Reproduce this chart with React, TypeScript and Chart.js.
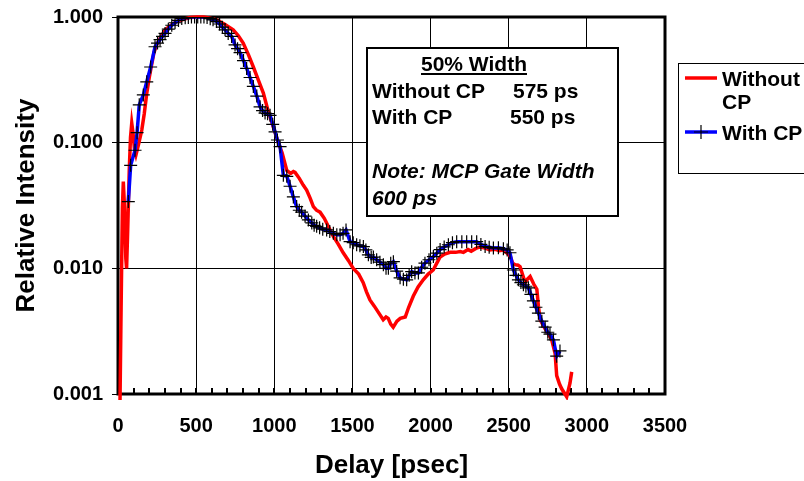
import React, { useEffect, useRef } from 'react';
import { Chart, registerables } from 'chart.js';

Chart.register(...registerables);

// ---- Data ----
const withoutCpX = [
  5, 13, 20, 28, 34, 42, 50, 55, 62, 72, 80, 88, 96, 105, 115, 130, 152, 168, 184, 200,
  215, 230, 247, 270, 301, 340, 375, 420, 460, 503, 550, 590, 631, 680, 737, 770, 801, 835, 866, 900,
  930, 960, 994, 1020, 1050, 1080, 1105, 1122, 1133, 1160, 1185, 1207, 1230, 1250, 1270, 1293, 1320, 1350, 1377, 1410,
  1441, 1475, 1505, 1540, 1569, 1590, 1612, 1640, 1664, 1697, 1715, 1729, 1745, 1761, 1785, 1806, 1838, 1860, 1889, 1920,
  1953, 1985, 2017, 2040, 2061, 2090, 2125, 2160, 2190, 2210, 2240, 2260, 2290, 2317, 2350, 2380, 2410, 2440, 2465, 2487,
  2510, 2525, 2541, 2560, 2573, 2590, 2605, 2620, 2637, 2660, 2680, 2690, 2701, 2733, 2755, 2775, 2797, 2807, 2825, 2839,
  2871, 2892, 2903,
];
const withoutCpY = [
  0.0008, 0.0009, 0.005, 0.03, 0.049, 0.03, 0.012, 0.010, 0.02, 0.06, 0.11, 0.143, 0.12, 0.09, 0.080, 0.095, 0.126, 0.17, 0.247, 0.33,
  0.415, 0.52, 0.60, 0.68, 0.788, 0.86, 0.918, 0.96, 0.99, 1.0, 1.0, 0.98, 0.947, 0.88, 0.79, 0.71, 0.62, 0.50, 0.40, 0.31,
  0.248, 0.18, 0.133, 0.105, 0.083, 0.060, 0.057, 0.059, 0.058, 0.052, 0.046, 0.042, 0.036, 0.031, 0.029, 0.028, 0.025, 0.021, 0.018, 0.0155,
  0.0133, 0.0115, 0.010, 0.0090, 0.0077, 0.0065, 0.0056, 0.0050, 0.0045, 0.0039, 0.0041, 0.0040, 0.0036, 0.0034, 0.0038, 0.0040, 0.0041, 0.0049, 0.0060, 0.0071,
  0.0081, 0.0090, 0.0097, 0.0110, 0.0123, 0.0130, 0.0134, 0.0134, 0.0136, 0.0134, 0.0141, 0.0137, 0.0144, 0.0148, 0.0145, 0.0140, 0.0142, 0.0138, 0.0140, 0.0133,
  0.0125, 0.0110, 0.0107, 0.0106, 0.0103, 0.0088, 0.0077, 0.0082, 0.0086, 0.0075, 0.0068, 0.0050, 0.0039, 0.0033, 0.0030, 0.0027, 0.0021, 0.0014, 0.0012, 0.0011,
  0.00095, 0.00122, 0.0015,
];

const withCpX = [
  66, 81, 109, 122, 136, 162, 184, 209, 237, 253, 269, 285, 301, 322, 344, 365, 387, 408, 430, 450,
  470, 490, 510, 530, 550, 570, 590, 608, 630, 650, 668, 685, 705, 727, 749, 765, 781, 803, 823, 845,
  866, 888, 909, 925, 941, 957, 973, 990, 1005, 1020, 1037, 1058, 1080, 1101, 1122, 1143, 1160, 1175, 1197, 1218,
  1240, 1255, 1271, 1290, 1310, 1335, 1355, 1378, 1400, 1421, 1440, 1459, 1485, 1505, 1527, 1548, 1570, 1586, 1602, 1620,
  1634, 1655, 1676, 1698, 1715, 1730, 1745, 1762, 1783, 1805, 1826, 1847, 1863, 1879, 1900, 1922, 1943, 1964, 1990, 2018,
  2040, 2061, 2087, 2114, 2140, 2167, 2200, 2231, 2263, 2295, 2322, 2349, 2375, 2402, 2434, 2466, 2490, 2508, 2530, 2546,
  2562, 2578, 2594, 2610, 2626, 2642, 2658, 2674, 2690, 2712, 2733, 2750, 2764, 2786, 2807, 2828,
];
const withCpY = [
  0.034, 0.066, 0.087, 0.12, 0.20, 0.24, 0.305, 0.40, 0.58, 0.62, 0.66, 0.70, 0.74, 0.80, 0.86, 0.90, 0.94, 0.975, 0.985, 0.99,
  1.0, 1.0, 1.0, 1.0, 1.0, 0.99, 0.97, 0.95, 0.92, 0.88, 0.83, 0.79, 0.74, 0.70, 0.60, 0.56, 0.52, 0.45, 0.39, 0.33,
  0.28, 0.235, 0.193, 0.18, 0.172, 0.170, 0.165, 0.14, 0.122, 0.105, 0.093, 0.055, 0.054, 0.045, 0.037, 0.031, 0.029, 0.028, 0.026, 0.0243,
  0.023, 0.022, 0.0216, 0.0210, 0.0205, 0.0202, 0.0196, 0.019, 0.0185, 0.0185, 0.019, 0.0202, 0.0163, 0.0160, 0.0154, 0.0151, 0.0149, 0.014, 0.0128, 0.0122,
  0.0123, 0.0117, 0.0112, 0.0107, 0.0100, 0.0100, 0.0110, 0.0113, 0.0095, 0.0084, 0.0082, 0.0081, 0.0088, 0.0094, 0.0092, 0.0092, 0.0102, 0.011, 0.0117, 0.0124,
  0.0132, 0.0141, 0.0148, 0.0154, 0.0160, 0.0163, 0.0163, 0.0163, 0.0163, 0.0163, 0.0155, 0.0149, 0.0147, 0.0145, 0.0146, 0.0143, 0.0140, 0.0133, 0.0097, 0.0088,
  0.0081, 0.0077, 0.0074, 0.0072, 0.0070, 0.0062, 0.0055, 0.0049, 0.0044, 0.0038, 0.0034, 0.0031, 0.0030, 0.0027, 0.0020, 0.0022,
];

const seriesLabels = ['Without CP', 'With CP'];
const legendLines = [['Without', 'CP'], ['With CP']];
const xTickValues = [0, 500, 1000, 1500, 2000, 2500, 3000, 3500];
const xMinorStep = 100;
const yTickValues = [0.001, 0.01, 0.1, 1];
const noteTitle = '50% Width';
const noteRows = [
  ['Without CP', '575 ps'],
  ['With CP', '550 ps'],
];
const noteItalic = ['Note: MCP Gate Width', '600 ps'];

const FONT = '"Liberation Sans", Arial, Helvetica, sans-serif';
const RED = '#ff0000';
const BLUE = '#0000ff';

const overlayPlugin = {
  id: 'overlay',
  beforeDatasetsDraw(chart: any) {
    const { ctx, chartArea: a, scales } = chart;
    const x = scales.x;
    ctx.save();
    ctx.strokeStyle = '#000';
    ctx.lineWidth = 2;
    for (let v = xMinorStep; v < x.max; v += xMinorStep) {
      const px = Math.round(x.getPixelForValue(v));
      ctx.beginPath();
      ctx.moveTo(px, a.bottom);
      ctx.lineTo(px, a.bottom - 6);
      ctx.stroke();
    }
    ctx.lineWidth = 3;
    ctx.strokeRect(a.left, a.top, a.right - a.left, a.bottom - a.top);
    ctx.restore();
  },
  afterDraw(chart: any) {
    const { ctx, chartArea: a } = chart;
    ctx.save();
    // ---- annotation box (fixed offsets from the plot frame) ----
    const bx = a.left + 249;
    const by = 48;
    const bw = 251;
    const bh = 168;
    ctx.fillStyle = '#fff';
    ctx.fillRect(bx, by, bw, bh);
    ctx.strokeStyle = '#000';
    ctx.lineWidth = 2;
    ctx.strokeRect(bx, by, bw, bh);
    ctx.fillStyle = '#000';
    ctx.textBaseline = 'alphabetic';
    ctx.font = `bold 21px ${FONT}`;
    ctx.textAlign = 'center';
    const tcx = bx + 107;
    ctx.fillText(noteTitle, tcx, by + 23);
    const tw = ctx.measureText(noteTitle).width;
    ctx.lineWidth = 2;
    ctx.beginPath();
    ctx.moveTo(tcx - tw / 2, by + 26);
    ctx.lineTo(tcx + tw / 2, by + 26);
    ctx.stroke();
    ctx.textAlign = 'left';
    ctx.fillText(noteRows[0][0], bx + 5, by + 50);
    ctx.fillText(noteRows[0][1], bx + 146, by + 50);
    ctx.fillText(noteRows[1][0], bx + 5, by + 76);
    ctx.fillText(noteRows[1][1], bx + 143, by + 76);
    ctx.font = `italic bold 21px ${FONT}`;
    ctx.fillText(noteItalic[0], bx + 5, by + 130);
    ctx.fillText(noteItalic[1], bx + 5, by + 157);

    // ---- legend ----
    const lx = a.right + 13;
    const ly = 63;
    ctx.fillStyle = '#fff';
    ctx.fillRect(lx, ly, 200, 110);
    ctx.strokeStyle = '#000';
    ctx.lineWidth = 1;
    ctx.strokeRect(lx + 0.5, ly + 0.5, 200, 110);
    ctx.strokeStyle = RED;
    ctx.lineWidth = 3.5;
    ctx.beginPath();
    ctx.moveTo(lx + 7, ly + 15);
    ctx.lineTo(lx + 39, ly + 15);
    ctx.stroke();
    ctx.strokeStyle = BLUE;
    ctx.beginPath();
    ctx.moveTo(lx + 7, ly + 69);
    ctx.lineTo(lx + 39, ly + 69);
    ctx.stroke();
    ctx.strokeStyle = '#000';
    ctx.lineWidth = 1.2;
    ctx.beginPath();
    ctx.moveTo(lx + 16, ly + 69);
    ctx.lineTo(lx + 30, ly + 69);
    ctx.moveTo(lx + 23, ly + 62);
    ctx.lineTo(lx + 23, ly + 76);
    ctx.stroke();
    ctx.fillStyle = '#000';
    ctx.font = `bold 21px ${FONT}`;
    ctx.textAlign = 'left';
    ctx.fillText(legendLines[0][0], lx + 44, ly + 23);
    ctx.fillText(legendLines[0][1], lx + 44, ly + 46);
    ctx.fillText(legendLines[1][0], lx + 44, ly + 77);
    ctx.restore();
  },
};

export default function App() {
  const canvasRef = useRef<HTMLCanvasElement | null>(null);

  useEffect(() => {
    const canvas = canvasRef.current;
    if (!canvas) return;
    const chart = new Chart(canvas, {
      type: 'line',
      data: {
        datasets: [
          {
            label: seriesLabels[0],
            data: withoutCpX.map((x, i) => ({ x, y: withoutCpY[i] })),
            borderColor: RED,
            backgroundColor: RED,
            borderWidth: 3.5,
            pointRadius: 0,
            tension: 0,
            order: 2,
            clip: { left: 5, top: 5, right: 5, bottom: 6 } as any,
          },
          {
            label: seriesLabels[1],
            data: withCpX.map((x, i) => ({ x, y: withCpY[i] })),
            borderColor: BLUE,
            backgroundColor: '#000',
            borderWidth: 3.5,
            pointStyle: 'cross',
            pointRadius: 6.5,
            pointBorderColor: '#000',
            pointBorderWidth: 1.2,
            pointBackgroundColor: '#000',
            tension: 0,
            order: 1,
          },
        ],
      },
      options: {
        animation: false,
        responsive: false,
        maintainAspectRatio: false,
        layout: { padding: { left: 0, right: 139, top: 17, bottom: 0 } },
        plugins: {
          legend: { display: false },
          tooltip: { enabled: false },
        },
        scales: {
          x: {
            type: 'linear',
            min: 0,
            max: 3500,
            afterBuildTicks: (s: any) => {
              s.ticks = xTickValues.map((v) => ({ value: v }));
            },
            afterFit: (s: any) => {
              s.height = 87;
            },
            ticks: {
              autoSkip: false,
              maxRotation: 0,
              padding: 22,
              color: '#000',
              font: { family: FONT, size: 20, weight: 'bold', lineHeight: 1 },
              callback: (v: any) => String(v),
            },
            grid: {
              color: '#000',
              lineWidth: 1,
              drawTicks: false,
            },
            border: { display: false },
            title: {
              display: true,
              text: 'Delay [psec]',
              color: '#000',
              font: { family: FONT, size: 26, weight: 'bold' },
              padding: { top: 0, bottom: 0 },
            },
          },
          y: {
            type: 'logarithmic',
            min: 0.001,
            max: 1,
            afterBuildTicks: (s: any) => {
              s.ticks = yTickValues.map((v) => ({ value: v, major: true }));
            },
            afterFit: (s: any) => {
              s.width = 118;
              s.paddingTop = 0;
              s.paddingBottom = 0;
            },
            ticks: {
              autoSkip: false,
              padding: 9,
              color: '#000',
              font: { family: FONT, size: 20, weight: 'bold', lineHeight: 1 },
              callback: (v: any) => Number(v).toFixed(3),
            },
            grid: {
              color: '#000',
              lineWidth: 1,
              drawTicks: true,
              tickLength: 6,
              tickColor: '#000',
            },
            border: { display: false },
            title: {
              display: true,
              text: 'Relative Intensity',
              color: '#000',
              font: { family: FONT, size: 26, weight: 'bold' },
              padding: { top: 11, bottom: 0 },
            },
          },
        },
      } as any,
      plugins: [overlayPlugin],
    });
    return () => chart.destroy();
  }, []);

  return (
    <div style={{ position: 'fixed', left: 0, top: 0, width: 804, height: 481, background: '#fff' }}>
      <canvas ref={canvasRef} width={804} height={481} style={{ display: 'block' }} />
    </div>
  );
}
